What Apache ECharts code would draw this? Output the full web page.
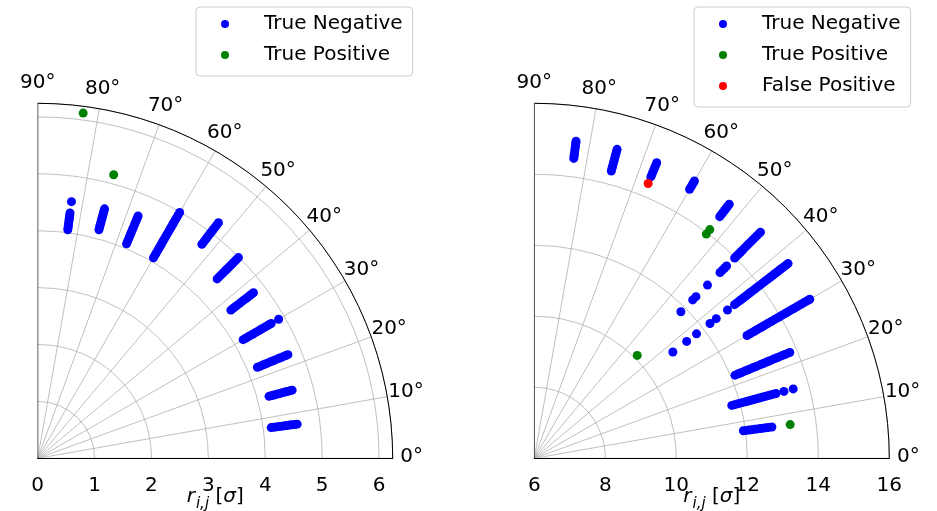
<!DOCTYPE html>
<html>
<head>
<meta charset="utf-8">
<script src="https://cdn.jsdelivr.net/npm/echarts@6/dist/echarts.min.js"></script>
<style>
  html, body { margin: 0; padding: 0; background: #ffffff; }
  #chart { width: 937px; height: 511px; }
</style>
</head>
<body>
<div id="chart"></div>
<script>
// Directions (degrees) of the pair rays shared by both panels
const rayAngles = [82.5, 75, 67.5, 60, 52.5, 45, 37.5, 30, 22.5, 15, 7.5];

// Left panel: separations r_ij [sigma] of the true negatives, one list per ray
const leftNegativeRadii = [
  [4.05, 4.09, 4.12, 4.16, 4.20, 4.24, 4.27, 4.31, 4.35, 4.55],
  [4.16, 4.20, 4.23, 4.27, 4.31, 4.35, 4.38, 4.42, 4.46, 4.50, 4.54],
  [4.08, 4.12, 4.17, 4.21, 4.26, 4.30, 4.35, 4.39, 4.44, 4.48, 4.53, 4.57, 4.61],
  [4.07, 4.12, 4.16, 4.21, 4.26, 4.31, 4.35, 4.40, 4.45, 4.50, 4.54, 4.59, 4.64, 4.69, 4.74, 4.78, 4.83, 4.88, 4.93, 4.99],
  [4.74, 4.79, 4.84, 4.88, 4.93, 4.98, 5.03, 5.07, 5.12, 5.17, 5.22],
  [4.46, 4.51, 4.56, 4.61, 4.66, 4.70, 4.75, 4.80, 4.85, 4.90, 4.94, 4.99],
  [4.28, 4.33, 4.38, 4.43, 4.48, 4.53, 4.58, 4.63, 4.68, 4.73, 4.78],
  [4.17, 4.22, 4.27, 4.32, 4.37, 4.42, 4.47, 4.52, 4.56, 4.61, 4.66, 4.70, 4.74, 4.89],
  [4.18, 4.23, 4.28, 4.33, 4.38, 4.43, 4.48, 4.53, 4.58, 4.62, 4.67, 4.72, 4.76],
  [4.21, 4.26, 4.30, 4.35, 4.40, 4.45, 4.50, 4.54, 4.59, 4.63],
  [4.14, 4.19, 4.23, 4.28, 4.33, 4.38, 4.42, 4.47, 4.51, 4.56, 4.60]
];
// Left panel: true positives as [r, theta]
const leftTruePositive = [[6.12, 82.5], [5.16, 75]];

// Right panel: true negatives, one list per ray
const rightNegativeRadii = [
  [14.52, 14.58, 14.64, 14.70, 14.77, 14.83, 14.89, 14.95, 15.01],
  [14.38, 14.45, 14.52, 14.59, 14.66, 14.73, 14.80, 14.87, 14.94, 15.01],
  [14.58, 14.65, 14.72, 14.80, 14.87, 14.94, 15.01],
  [14.75, 14.82, 14.89, 14.96, 15.02],
  [14.58, 14.65, 14.72, 14.80, 14.87, 14.94, 15.02],
  [11.84, 12.31, 12.44, 12.90, 13.40, 13.49, 13.58, 13.66, 13.98, 14.06, 14.14, 14.22, 14.30, 14.38, 14.46, 14.54, 14.62, 14.70, 14.78, 14.86, 14.94, 15.01],
  [10.92, 11.41, 11.76, 12.24, 12.46, 12.86, 13.11, 13.19, 13.27, 13.35, 13.43, 13.51, 13.59, 13.67, 13.75, 13.83, 13.91, 13.99, 14.07, 14.15, 14.23, 14.31, 14.39, 14.47, 14.55, 14.62, 14.70, 14.78, 14.86, 14.94, 15.01],
  [12.92, 13.00, 13.08, 13.16, 13.24, 13.32, 13.40, 13.48, 13.56, 13.64, 13.72, 13.80, 13.88, 13.96, 14.04, 14.12, 14.20, 14.28, 14.36, 14.44, 14.52, 14.60, 14.68, 14.76, 14.84, 14.90, 14.96],
  [12.12, 12.20, 12.28, 12.36, 12.44, 12.52, 12.60, 12.68, 12.76, 12.84, 12.92, 13.00, 13.08, 13.16, 13.24, 13.32, 13.40, 13.48, 13.56, 13.64, 13.72, 13.79],
  [11.76, 11.84, 11.92, 12.00, 12.08, 12.16, 12.24, 12.32, 12.40, 12.48, 12.56, 12.64, 12.72, 12.80, 12.88, 12.96, 13.05, 13.28, 13.55],
  [11.94, 12.02, 12.10, 12.18, 12.26, 12.34, 12.42, 12.50, 12.58, 12.66, 12.75]
];
// Right panel: true and false positives as [r, theta]
const rightTruePositive = [[13.27, 7.5], [10.10, 45], [13.96, 52.5], [14.12, 52.5]];
const rightFalsePositive = [[14.38, 67.5]];

// Angular tick values (degrees) and radial axis ranges
const angleTicks = [0, 10, 20, 30, 40, 50, 60, 70, 80, 90];
const leftRadiusRange = [0, 6.24];
const leftRadiusStep = 1;
const rightRadiusRange = [6, 16];
const rightRadiusStep = 2;

const FONT = 'DejaVu Sans';
const GRID = '#b0b0b0';
const BLUE = '#0000ff', GREEN = '#008000', RED = '#ff0000';
const PLOT_RADIUS = 355;

function rayPoints(radiiLists) {
  const pts = [];
  radiiLists.forEach((list, i) => list.forEach(r => pts.push([r, rayAngles[i]])));
  return pts;
}

const axisNameRich = {
  r: { fontSize: 20, fontStyle: 'italic', fontFamily: FONT, color: '#000' },
  s: { fontSize: 15, fontStyle: 'italic', fontFamily: FONT, color: '#000', padding: [14, 0, 0, 1] },
  n: { fontSize: 20, fontFamily: FONT, color: '#000' },
  g: { fontSize: 20, fontStyle: 'italic', fontFamily: FONT, color: '#000' }
};

function angleAxisFor(idx) {
  return {
    polarIndex: idx, type: 'value', min: 0, max: 90, interval: 10,
    startAngle: 0, endAngle: 90, clockwise: false,
    axisLine: { show: true, lineStyle: { color: '#000', width: 1 } },
    axisTick: { show: false },
    axisLabel: { show: false },
    splitLine: { show: true, lineStyle: { color: GRID, width: 0.8 } }
  };
}

function radiusAxisFor(idx, range, step) {
  return {
    polarIndex: idx, type: 'value', min: range[0], max: range[1], interval: step,
    axisLine: { show: true, lineStyle: { color: '#000', width: 1 } },
    axisTick: { show: false },
    axisLabel: {
      margin: -37, fontSize: 20, color: '#000', fontFamily: FONT,
      formatter: v => (Math.abs(v - Math.round(v)) < 1e-6 ? String(Math.round(v)) : '')
    },
    splitLine: { show: true, lineStyle: { color: GRID, width: 0.8 } },
    name: '{r|r}{s|i,j}{n| [}{g|σ}{n|]}',
    nameLocation: 'middle',
    nameGap: 24,
    nameMoveOverlap: false,
    nameTextStyle: { rich: axisNameRich }
  };
}

// Degree labels around the outer arc, placed just outside the rim
function angleLabelSeries(idx, rMax) {
  return {
    type: 'scatter', coordinateSystem: 'polar', polarIndex: idx,
    silent: true, clip: false, symbolSize: 1, z: 5,
    itemStyle: { color: 'transparent' },
    data: angleTicks.map(a => {
      const rad = a * Math.PI / 180;
      return { value: [rMax, a], label: { offset: [19 * Math.cos(rad), -19 * Math.sin(rad) - 1.5] } };
    }),
    label: {
      show: true, position: 'inside', fontSize: 20, color: '#000', fontFamily: FONT,
      textBorderWidth: 0, textBorderColor: 'transparent', opacity: 1,
      formatter: p => p.value[1] + '°'
    }
  };
}

// Closing edge of the quadrant along 90 degrees
function edgeSeries(idx, range) {
  return {
    type: 'line', coordinateSystem: 'polar', polarIndex: idx, silent: true,
    symbol: 'none', z: 3,
    lineStyle: { color: '#000', width: 1 },
    data: [[range[0], 90], [range[1], 90]]
  };
}

function pointSeries(name, idx, data, color, z) {
  return {
    name, type: 'scatter', coordinateSystem: 'polar', polarIndex: idx,
    data, symbol: 'circle', symbolSize: 9, z,
    itemStyle: { color, opacity: 1 }
  };
}

const legendCommon = {
  orient: 'vertical', top: 7, icon: 'circle',
  itemWidth: 20, itemHeight: 8, itemGap: 11,
  padding: [7, 10, 11, 25],
  borderColor: '#cccccc', borderWidth: 1, borderRadius: 4,
  backgroundColor: 'rgba(255,255,255,0.8)',
  selectedMode: false,
  textStyle: { fontSize: 20, fontFamily: FONT, color: '#000', lineHeight: 20, padding: [0, 0, 0, 24] }
};

const option = {
  animation: false,
  backgroundColor: '#ffffff',
  textStyle: { fontFamily: FONT },
  legend: [
    Object.assign({}, legendCommon, { left: 196, data: ['True Negative', 'True Positive'] }),
    Object.assign({}, legendCommon, { left: 694, data: ['True Negative', 'True Positive', 'False Positive'] })
  ],
  polar: [
    { center: [37.7, 458.3], radius: PLOT_RADIUS },
    { center: [534.3, 458.3], radius: PLOT_RADIUS }
  ],
  angleAxis: [angleAxisFor(0), angleAxisFor(1)],
  radiusAxis: [
    radiusAxisFor(0, leftRadiusRange, leftRadiusStep),
    radiusAxisFor(1, rightRadiusRange, rightRadiusStep)
  ],
  series: [
    edgeSeries(0, leftRadiusRange),
    edgeSeries(1, rightRadiusRange),
    angleLabelSeries(0, leftRadiusRange[1]),
    angleLabelSeries(1, rightRadiusRange[1]),
    pointSeries('True Negative', 0, rayPoints(leftNegativeRadii), BLUE, 4),
    pointSeries('True Positive', 0, leftTruePositive, GREEN, 5),
    pointSeries('True Negative', 1, rayPoints(rightNegativeRadii), BLUE, 4),
    pointSeries('True Positive', 1, rightTruePositive, GREEN, 5),
    pointSeries('False Positive', 1, rightFalsePositive, RED, 6)
  ]
};

const chart = echarts.init(document.getElementById('chart'), null, { renderer: 'canvas' });
chart.setOption(option);
</script>
</body>
</html>
